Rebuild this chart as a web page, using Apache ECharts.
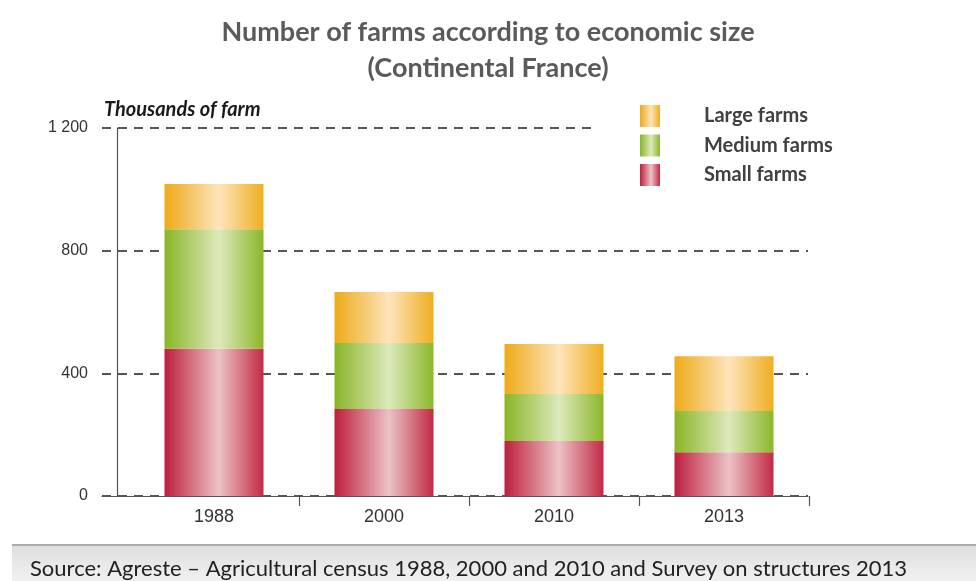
<!DOCTYPE html>
<html>
<head>
<meta charset="utf-8">
<title>Number of farms according to economic size</title>
<script src="https://cdn.jsdelivr.net/npm/echarts@6/dist/echarts.min.js"></script>
<style>
  html, body { margin: 0; padding: 0; background: #ffffff; }
  #chart { width: 976px; height: 581px; }
</style>
</head>
<body>
<div id="chart"></div>
<script>
// Census years shown on the category axis
const years = ['1988', '2000', '2010', '2013'];

// Number of farms, thousands, by economic size
const smallFarms = [480, 284, 179, 143];
const mediumFarms = [390, 215, 154, 134];
const largeFarms = [147, 166, 163, 179];

// Value axis ticks
const yTicks = [0, 400, 800, 1200];

const chart = echarts.init(document.getElementById('chart'));

// Horizontal "cylinder" shading: saturated edges, pale centre
function shade(edgeL, mid, edgeR) {
  return new echarts.graphic.LinearGradient(0, 0, 1, 0, [
    { offset: 0, color: edgeL },
    { offset: 0.55, color: mid },
    { offset: 1, color: edgeR }
  ]);
}

const redFill = shade('#bd1e3c', '#ebc3c6', '#c22a45');
const greenFill = shade('#89b526', '#dde9bb', '#8cb72a');
const orangeFill = shade('#eeaa18', '#fde4bb', '#efae20');

const yMin = yTicks[0];
const yMax = yTicks[yTicks.length - 1];
const yStep = yTicks[1] - yTicks[0];

const option = {
  backgroundColor: '#ffffff',
  animation: false,
  title: [
    {
      text: 'Number of farms according to economic size\n(Continental France)',
      left: 'center',
      top: 9,
      textStyle: {
        fontFamily: 'Lato',
        fontSize: 27,
        fontWeight: 'bold',
        color: '#5a5a5a',
        lineHeight: 36
      }
    },
    {
      text: 'Thousands of farm',
      left: 99,
      top: 95,
      textStyle: {
        fontFamily: 'Lato',
        fontSize: 20,
        fontWeight: 'bold',
        fontStyle: 'italic',
        color: '#1a1a1a'
      }
    }
  ],
  legend: {
    orient: 'vertical',
    left: 598,
    top: 100,
    padding: [5, 20, 5, 42],
    backgroundColor: '#ffffff',
    icon: 'rect',
    itemWidth: 20,
    itemHeight: 22,
    itemGap: 7.5,
    data: ['Large farms', 'Medium farms', 'Small farms'],
    textStyle: {
      fontFamily: 'Lato',
      fontSize: 20,
      fontWeight: 'bold',
      color: '#404040',
      padding: [2, 0, 0, 39]
    },
    selectedMode: false
  },
  graphic: [
    {
      type: 'rect',
      left: 12,
      top: 545,
      shape: { width: 964, height: 36 },
      style: {
        fill: new echarts.graphic.LinearGradient(0, 0, 0, 1, [
          { offset: 0, color: '#dedede' },
          { offset: 1, color: '#f1f1f1' }
        ])
      },
      z: -1
    },
    {
      type: 'rect',
      left: 12,
      top: 544,
      shape: { width: 964, height: 2 },
      style: { fill: '#aaaaaa' },
      z: -1
    },
    {
      type: 'text',
      left: 30,
      top: 558,
      style: {
        text: 'Source: Agreste \u2013 Agricultural census 1988, 2000 and 2010 and Survey on structures 2013',
        font: '22px Lato',
        fill: '#222222'
      }
    }
  ],
  grid: [
    // backdrop grid: dashed guides and the baseline
    { left: 102, right: 168, top: 128, bottom: 85 },
    // bars
    { left: 129, right: 167, top: 128, bottom: 85 }
  ],
  xAxis: [
    {
      gridIndex: 0,
      type: 'category',
      data: [''],
      axisLine: { show: true, lineStyle: { color: '#555555', width: 1.2 } },
      axisTick: { show: false },
      axisLabel: { show: false }
    },
    {
      gridIndex: 1,
      type: 'category',
      data: years,
      axisLine: { show: false },
      axisTick: {
        show: true,
        length: 10,
        interval: function (index) { return index > 0; },
        lineStyle: { color: '#555555', width: 1.2 }
      },
      axisLabel: {
        margin: 12,
        fontFamily: 'Liberation Sans',
        fontSize: 18,
        color: '#333333'
      }
    }
  ],
  yAxis: [
    {
      gridIndex: 0,
      type: 'value',
      min: yMin,
      max: yMax,
      interval: yStep,
      axisLine: { show: false },
      axisTick: { show: false },
      axisLabel: { show: false },
      splitLine: {
        show: true,
        lineStyle: { color: '#555555', width: 1.8, type: [9, 7] }
      }
    },
    {
      gridIndex: 1,
      type: 'value',
      min: yMin,
      max: yMax,
      interval: yStep,
      offset: 12,
      axisLine: { show: true, lineStyle: { color: '#555555', width: 1.2 } },
      axisTick: { show: false },
      splitLine: { show: false },
      axisLabel: {
        margin: 29,
        fontFamily: 'Liberation Sans',
        fontSize: 16,
        color: '#333333',
        formatter: function (v) {
          return v >= 1000 ? Math.floor(v / 1000) + ' ' + String(v % 1000).padStart(3, '0') : String(v);
        }
      }
    }
  ],
  series: [
    {
      name: 'Small farms',
      type: 'bar',
      stack: 'farms',
      xAxisIndex: 1,
      yAxisIndex: 1,
      barWidth: 99,
      data: smallFarms,
      itemStyle: { color: redFill }
    },
    {
      name: 'Medium farms',
      type: 'bar',
      stack: 'farms',
      xAxisIndex: 1,
      yAxisIndex: 1,
      barWidth: 99,
      data: mediumFarms,
      itemStyle: { color: greenFill }
    },
    {
      name: 'Large farms',
      type: 'bar',
      stack: 'farms',
      xAxisIndex: 1,
      yAxisIndex: 1,
      barWidth: 99,
      data: largeFarms,
      itemStyle: { color: orangeFill }
    }
  ]
};

chart.setOption(option);
</script>
</body>
</html>
